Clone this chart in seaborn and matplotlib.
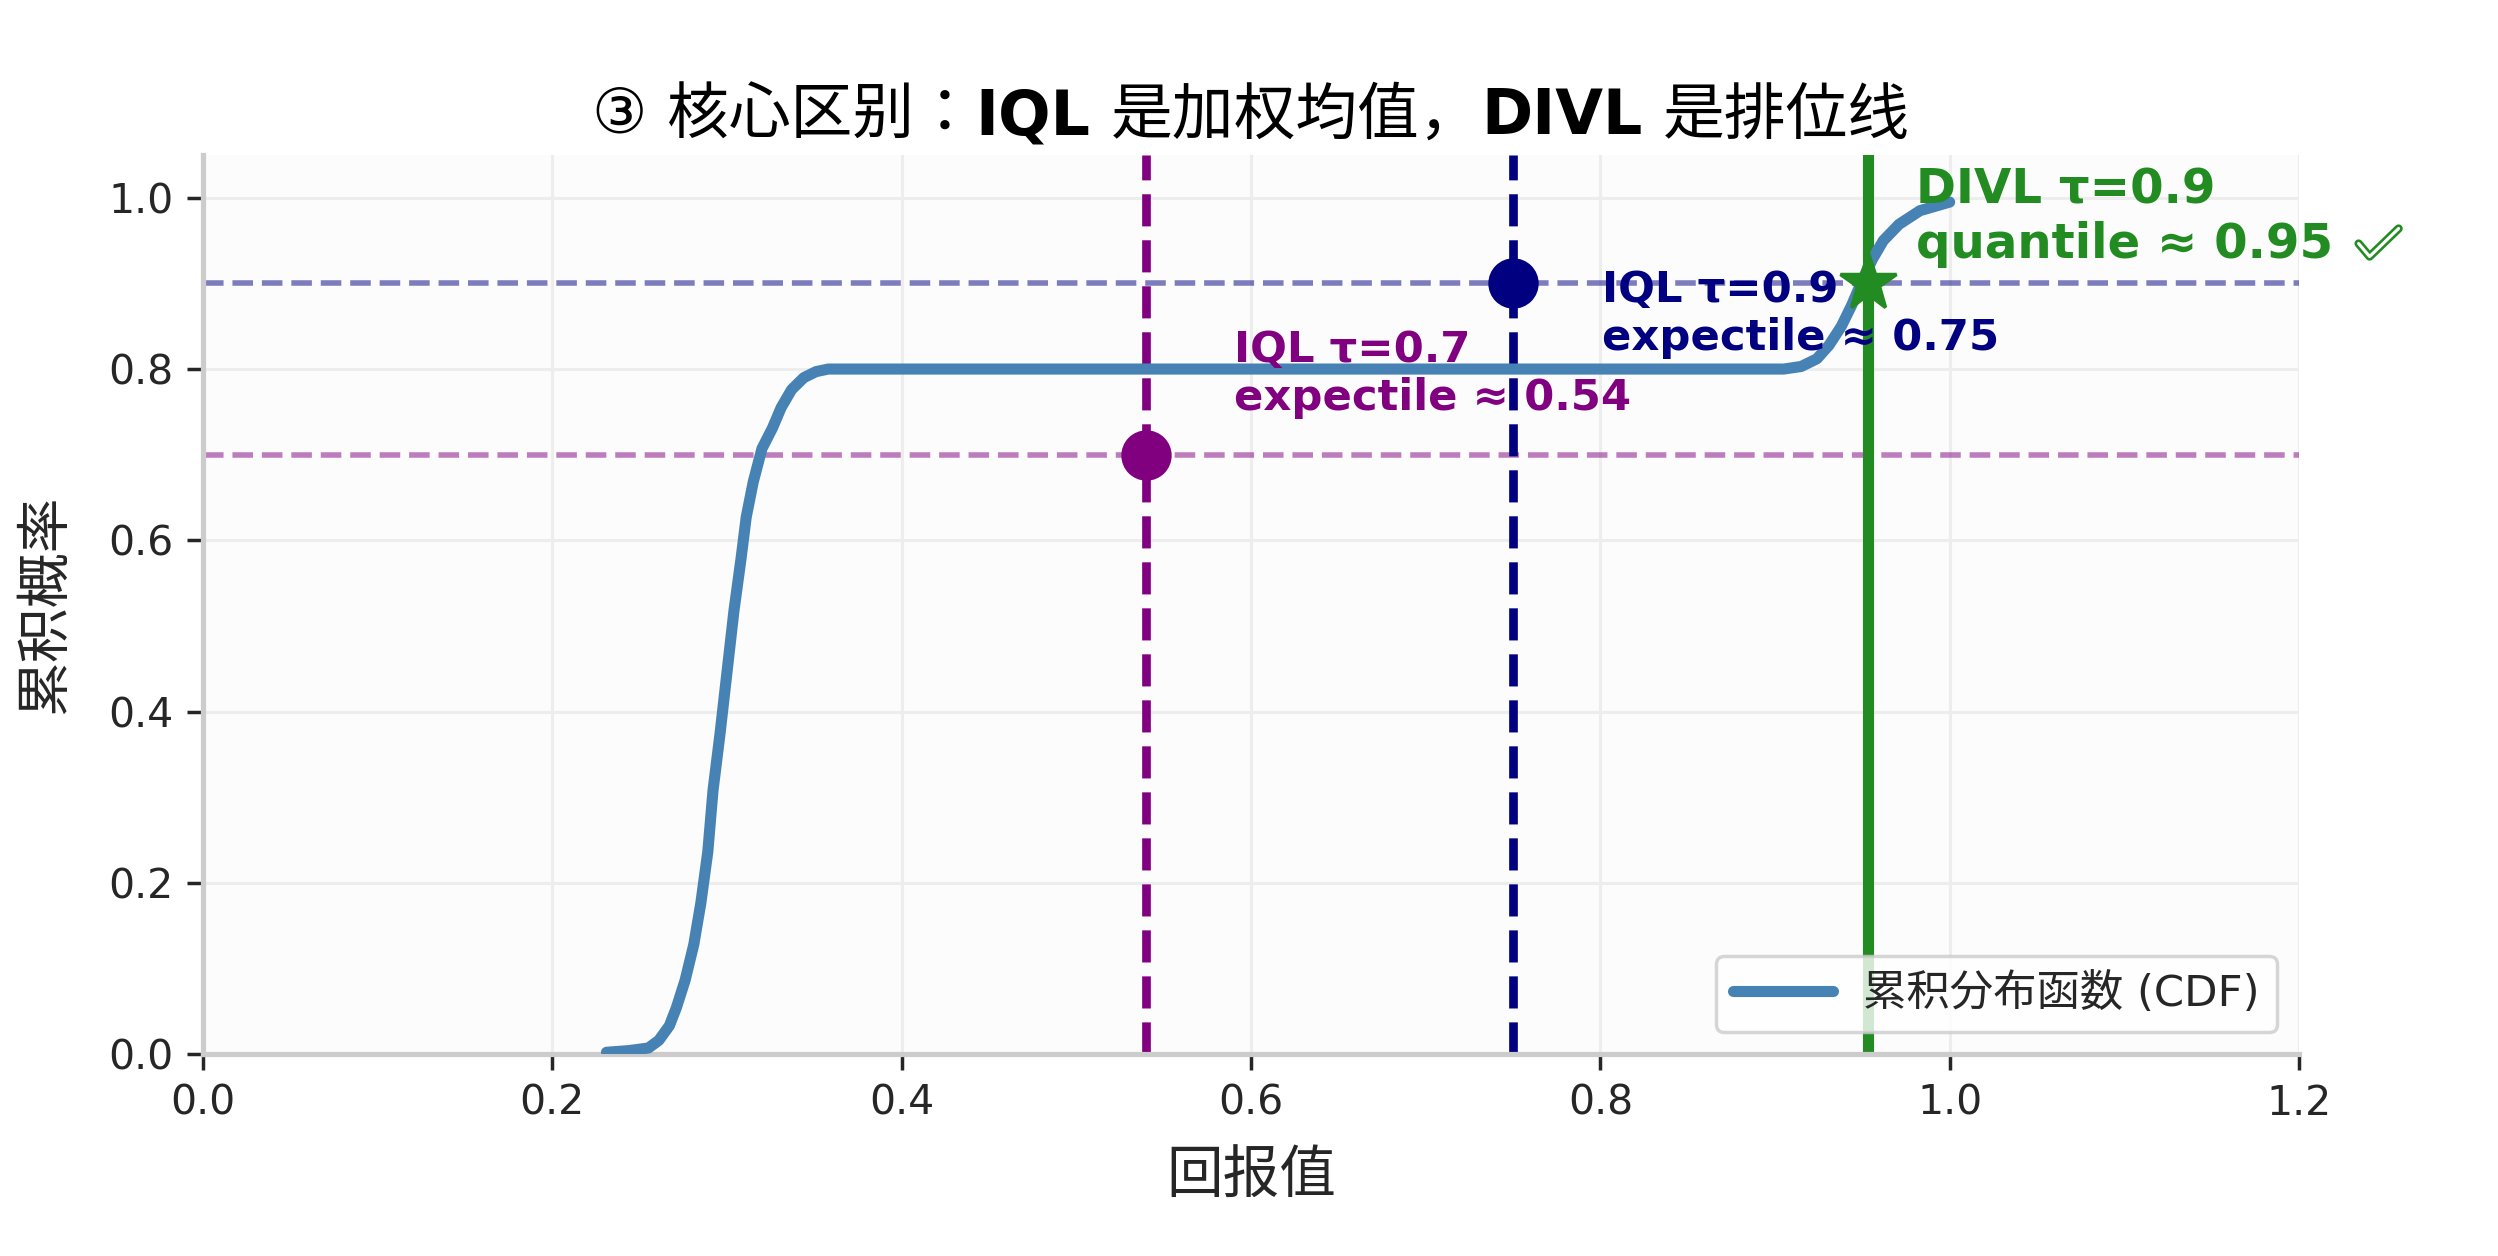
import numpy as np
import pandas as pd
import matplotlib
matplotlib.use("Agg")
import matplotlib.pyplot as plt
from matplotlib.font_manager import FontProperties
from matplotlib.lines import Line2D
from matplotlib.transforms import IdentityTransform
import seaborn as sns

# ---------------- data ----------------
cdf_x = [0.231, 0.244, 0.255, 0.261, 0.267, 0.271, 0.276, 0.281, 0.285, 0.289,
         0.292, 0.296, 0.300, 0.304, 0.308, 0.311, 0.315, 0.320, 0.326, 0.331,
         0.337, 0.344, 0.351, 0.358, 0.400, 0.500, 0.600, 0.700, 0.800, 0.905,
         0.915, 0.924, 0.931, 0.938, 0.944, 0.950, 0.956, 0.962, 0.971, 0.983,
         1.000]
cdf_y = [0.002, 0.004, 0.007, 0.016, 0.033, 0.054, 0.086, 0.128, 0.176, 0.236,
         0.308, 0.374, 0.446, 0.518, 0.578, 0.627, 0.668, 0.707, 0.731, 0.755,
         0.776, 0.790, 0.797, 0.800, 0.800, 0.800, 0.800, 0.800, 0.800, 0.800,
         0.803, 0.812, 0.828, 0.850, 0.875, 0.904, 0.929, 0.950, 0.969, 0.985,
         0.995]

iql07_tau, iql07_value = 0.7, 0.54
iql09_tau, iql09_value = 0.9, 0.75
divl_tau, divl_value = 0.9, 0.953

iql07_label = "IQL τ=0.7\nexpectile ≈ 0.54"
iql09_label = "IQL τ=0.9\nexpectile ≈ 0.75"
divl_label = "DIVL τ=0.9\nquantile ≈ 0.95"   # followed by a drawn ✅ (no installed glyph)
iql07_text_pos = (0.59, 0.847)
iql09_text_pos = (0.801, 0.917)
divl_text_pos = (0.981, 1.037)

x_ticks = [0.0, 0.2, 0.4, 0.6, 0.8, 1.0, 1.2]
y_ticks = [0.0, 0.2, 0.4, 0.6, 0.8, 1.0]
title_parts = [("③ 核心区别：", "normal"), ("IQL", "bold"), (" ", "bold"),
               ("是加权均值，", "normal"), ("DIVL", "bold"), (" ", "bold"),
               ("是排位线", "normal")]
xlabel = "回报值"
ylabel = "累积概率"
legend_label = "累积分布函数 (CDF)"

# ---------------- style ----------------
sns.set_theme(style="whitegrid")
FAM = ["DejaVu Sans", "Noto Sans CJK JP"]
plt.rcParams["font.family"] = FAM
plt.rcParams["axes.unicode_minus"] = False

W, H, DPI = 2498, 1256, 250
fig = plt.figure(figsize=(W / DPI, H / DPI), dpi=DPI)
left, right, top, bottom = 203, 2299, 155, 1054
ax = fig.add_axes([left / W, 1 - bottom / H, (right - left) / W, (bottom - top) / H])
ax.set_facecolor("#fcfcfc")

df = pd.DataFrame({"x": cdf_x, "y": cdf_y})
sns.lineplot(data=df, x="x", y="y", ax=ax, color="#4682b4", lw=3.2,
             label=legend_label, zorder=3, sort=False,
             solid_joinstyle="round", solid_capstyle="round")

# reference lines
ax.axhline(iql07_tau, color="purple", ls="--", lw=1.6, alpha=0.5, zorder=2)
ax.axhline(iql09_tau, color="navy", ls="--", lw=1.6, alpha=0.5, zorder=2)
ax.axvline(iql07_value, color="purple", ls="--", lw=2.5, zorder=2)
ax.axvline(iql09_value, color="navy", ls="--", lw=2.5, zorder=2)
ax.axvline(divl_value, color="forestgreen", ls="-", lw=3.2, zorder=2)

# markers
ax.plot([iql07_value], [iql07_tau], "o", color="purple", ms=13.5, zorder=5)
ax.plot([iql09_value], [iql09_tau], "o", color="navy", ms=13.5, zorder=5)
ax.plot([divl_value], [divl_tau], "*", color="forestgreen", ms=17, zorder=5)

# annotations
ax.text(*iql07_text_pos, iql07_label, color="purple", fontsize=12.5,
        fontweight="bold", va="top", ha="left", zorder=4)
ax.text(*iql09_text_pos, iql09_label, color="navy", fontsize=12.5,
        fontweight="bold", va="top", ha="left", zorder=4)
divl_txt = ax.text(*divl_text_pos, divl_label, color="forestgreen", fontsize=13.9,
                   fontweight="bold", va="top", ha="left", zorder=4)

# axes
ax.set_xlim(0, 1.2)
ax.set_ylim(0, 1.05)
ax.set_xticks(x_ticks)
ax.set_yticks(y_ticks)
ax.set_xticklabels([f"{v:.1f}" for v in x_ticks])
ax.set_yticklabels([f"{v:.1f}" for v in y_ticks])
ax.tick_params(axis="both", labelsize=11.8, colors=".15", length=4.5,
               width=1.0, direction="out", pad=4, bottom=True, left=True)
ax.grid(True, color="#ededed", lw=0.9)
for s in ["top", "right"]:
    ax.spines[s].set_visible(False)
for s in ["left", "bottom"]:
    ax.spines[s].set_color("#cccccc")
    ax.spines[s].set_linewidth(1.5)
ax.set_xlabel(xlabel, fontsize=16.3, color=".15", labelpad=7.5)
ax.set_ylabel(ylabel, fontsize=15.8, color=".15", labelpad=10)

leg = ax.legend(loc="lower right", prop=FontProperties(family=FAM, size=12.5),
                frameon=True, handlelength=2.3, handletextpad=0.7)
leg.get_frame().set_edgecolor("#cccccc")
for line in leg.get_lines():
    line.set_linewidth(3.2)

# title composed of normal + bold pieces on one baseline
TFS = 17.8
fig.canvas.draw()
renderer = fig.canvas.get_renderer()
pieces = []
for s, w in title_parts:
    t = fig.text(0, 0, s, fontsize=TFS, fontweight=w, va="baseline", ha="left",
                 color="black")
    pieces.append(t)
widths = []
for (s, w), t in zip(title_parts, pieces):
    if s.strip() == "":
        widths.append(0.33 * TFS * DPI / 72)
    else:
        widths.append(t.get_window_extent(renderer).width)
total = sum(widths)
cx = (left + right) / 2
x0 = cx - total / 2
base_y = top - 6 * DPI / 72
for t, wdt in zip(pieces, widths):
    t.set_position((x0 / W, 1 - base_y / H))
    x0 += wdt

# check mark (✅ has no glyph in installed fonts): outlined tick after the text
bb = divl_txt.get_window_extent(renderer)
prop = divl_txt.get_fontproperties()
_, _, d_line = renderer.get_text_width_height_descent("quantile ≈ 0.95", prop, ismath=False)
_, _, d_lp = renderer.get_text_width_height_descent("lp", prop, ismath=False)
baseline = bb.y0 + max(d_line, d_lp)
bx = bb.x1 + 36
cxs = [bx - 11, bx, bx + 29]
cys = [baseline + 14, baseline + 1, baseline + 29]
fig.add_artist(Line2D(cxs, cys, transform=IdentityTransform(), color="forestgreen",
                      lw=2.4, solid_joinstyle="round", solid_capstyle="round"))
fig.add_artist(Line2D(cxs, cys, transform=IdentityTransform(), color="white",
                      lw=0.9, solid_joinstyle="round", solid_capstyle="round"))

fig.savefig("out.png", dpi=DPI)
